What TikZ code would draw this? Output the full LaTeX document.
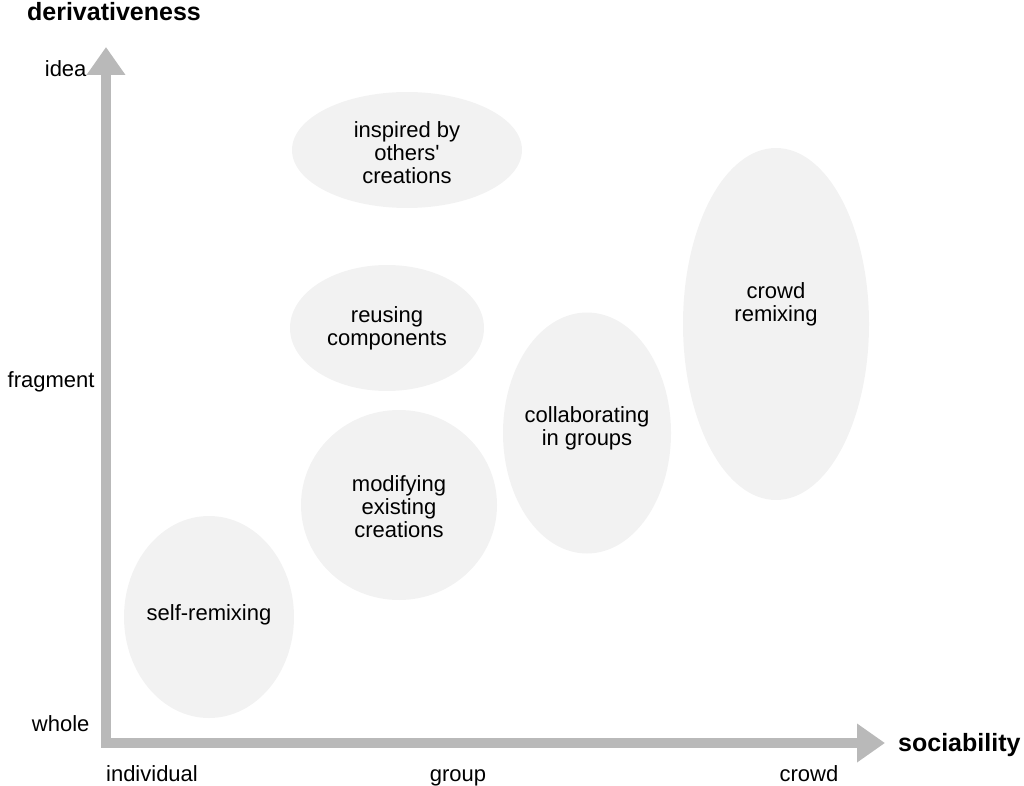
\documentclass[tikz,border=0pt]{standalone}
\usepackage{fontspec}
\newfontfamily\plotfont{Liberation Sans}
\usetikzlibrary{shapes.geometric,arrows.meta}
\definecolor{blobgray}{HTML}{F2F2F2}
\definecolor{axisgray}{HTML}{B9B9B9}
\tikzset{
  every node/.style={font=\plotfont\fontsize{22}{23}\selectfont, align=center},
  blob/.style={ellipse, fill=blobgray, inner sep=0pt},
  axistitle/.style={font=\plotfont\bfseries\fontsize{25}{27}\selectfont},
  axis/.style={draw=axisgray, line width=10pt, line join=miter,
    arrows={Triangle[width=37pt,length=28pt]-Triangle[width=37pt,length=28pt]}}
}
\begin{document}
\begin{tikzpicture}[x=1pt,y=-1pt]
      \useasboundingbox (0,0) rectangle (1024,786);
      % areas
      \node[blob, minimum width=230, minimum height=116] (inspired) at (407,150) {};
      \node[blob, minimum width=194, minimum height=126] (reusing) at (387,328) {};
      \node[blob, minimum width=196, minimum height=190] (modifying) at (399,505) {};
      \node[blob, minimum width=170, minimum height=202] (self) at (209,617) {};
      \node[blob, minimum width=168, minimum height=241] (collab) at (587,433) {};
      \node[blob, minimum width=186, minimum height=352] (crowd) at (776,324) {};
      \node (inspiredtext) at (407,153) {inspired by\\others\textquotesingle\\creations};
      \node (reusingtext) at (387,328) {reusing\\components};
      \node (modifyingtext) at (399,507) {modifying\\existing\\creations};
      \node (selftext) at (209,615) {self-remixing};
      \node (collabtext) at (587,428) {collaborating\\in groups};
      \node (crowdtext) at (776,304) {crowd\\remixing};
      % axes
      \coordinate (origin) at (106,743);
      \coordinate (xend) at (885,743);
      \coordinate (yend) at (106,47);
      \draw[axis] (xend) -- (origin) -- (yend);
      \node[axistitle] (ytitle) at (114,12) {derivativeness};
      \node[axistitle, anchor=east] (xtitle) at (1024,745) {sociability};
      % ticks
      \node[anchor=east] (idea) at (90,69) {idea};
      \node[anchor=east] (fragment) at (98,382) {fragment};
      \node[anchor=east] (whole) at (93,724) {whole};
      \node[anchor=base] (individual) at (152,781) {individual};
      \node[anchor=base] (group) at (458,781) {group};
      \node[anchor=base] (crowdtick) at (809,781) {crowd};
    \end{tikzpicture}
\end{document}
